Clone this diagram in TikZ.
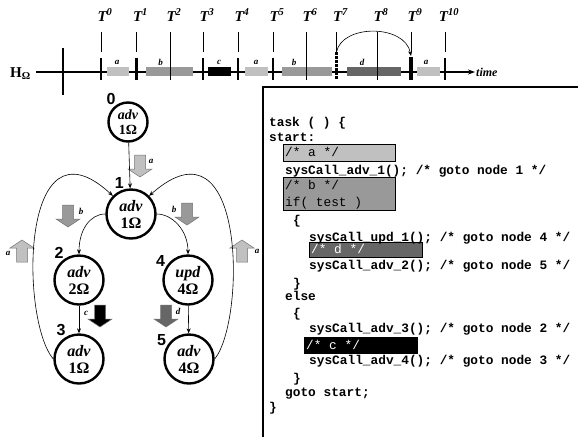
\documentclass[tikz,border=0pt]{standalone}
\usepackage{fontspec}
\setmainfont{Liberation Serif}
\newfontfamily\codefont{Liberation Mono}
\newfontfamily\numfont{Liberation Sans}
\usetikzlibrary{arrows.meta,positioning}

\definecolor{lgray}{HTML}{C0C0C0}
\definecolor{mgray}{HTML}{999999}
\definecolor{dgray}{HTML}{666666}

% fat block arrow: x, y, colour, angle
\newcommand{\fatarrow}[4]{%
  \draw[fat=#3, shift={(#1,#2)}, rotate=#4]
    (-5.5,-11) -- (5.5,-11) -- (5.5,3) -- (12,3) -- (0,11) -- (-12,3) -- (-5.5,3) -- cycle;}

\begin{document}
\begin{tikzpicture}[x=1pt, y=-1pt,
    state/.style={circle, draw, line width=2.4pt, minimum size=49pt, inner sep=0pt,
      align=center, font=\fontsize{16}{17}\selectfont\bfseries},
    stnum/.style={anchor=south east, inner sep=0.5pt,
      font=\numfont\fontsize{16}{16}\selectfont\bfseries},
    edge/.style={-{Stealth[length=5pt,width=4pt]}, line width=0.6pt},
    fat/.style={fill=#1, draw=black!55, line width=0.5pt},
    flab/.style={inner sep=0pt, font=\fontsize{9}{9}\selectfont\bfseries\itshape},
    tline/.style={line width=0.7pt},
    tick/.style={line width=2.8pt},
    tlab/.style={inner sep=0pt, font=\fontsize{15}{15}\selectfont\bfseries\itshape},
    code/.style={anchor=base west, inner sep=0pt,
      font=\codefont\fontsize{12.8}{13}\selectfont\bfseries},
    cbox/.style={draw, fill=#1, line width=0.5pt},
    boxtxt/.style={anchor=base west, inner sep=0pt,
      font=\codefont\fontsize{12.8}{13}\selectfont, text=#1},
    boxtxt/.default=black]
  \useasboundingbox (0,0) rectangle (578,437);

  % ---- time line ----
  \node[anchor=base west, inner sep=0pt, font=\fontsize{15}{15}\selectfont\bfseries]
    (hq) at (10,77) {H\textsubscript{Ω}};
  \node[anchor=west, inner sep=1pt, font=\fontsize{12}{12}\selectfont\bfseries\itshape]
    (tm) at (475,72) {time};
  \coordinate (ax0) at (36,72);
  \draw[line width=1.8pt, -{Stealth[length=7pt,width=5pt]}] (ax0) -- (tm.west);
  \draw[line width=1.8pt] (63,48) -- (63,95);
  \foreach \a/\b/\c in {107/129/lgray, 146/193/mgray, 208/231/black, 245/268/lgray,
                        282/332/mgray, 347/401/dgray, 417/440/lgray}
    \fill[\c] (\a,67) rectangle (\b,76);
  \foreach \x/\s [count=\i] in {117/a, 160.5/b, 219/c, 256/a, 294/b, 362/d, 426/a}
    \node[flab] (s\i) at (\x,62) {\s};
  \foreach \k/\x in {0/101, 1/136.5, 2/170, 3/203, 4/238, 5/273, 6/306,
                     7/336.5, 8/377, 9/411, 10/445} {
    \draw[tline] (\x,32) -- (\x,52);
    \node[tlab] (T\k) at (\x+4,15) {T\textsuperscript{\k}};
  }
  \foreach \x in {101, 136.5, 203, 238, 273, 445}
    \draw[tick] (\x,58) -- (\x,80);
  \draw[tick, line width=3.6pt] (411,57) -- (411,80);
  \foreach \x in {170, 306, 377}
    \draw[tline] (\x,52) -- (\x,80);
  \draw[tick, dash pattern=on 2.5pt off 1.5pt] (336.5,52) -- (336.5,80);
  \coordinate (t7) at (336.5,52);
  \coordinate (t9) at (411,56);
  \draw[edge] (t7) .. controls (342,24) and (405,24) .. (t9);

  % ---- block arrows ----
  \fatarrow{140}{166}{lgray}{0}
  \fatarrow{68}{216}{mgray}{0}
  \fatarrow{187}{214}{mgray}{0}
  \fatarrow{22}{251}{lgray}{180}
  \fatarrow{242}{251}{lgray}{180}
  \fatarrow{100}{316}{black}{0}
  \fatarrow{166}{316}{dgray}{0}
  \node[flab] (fa0) at (151,161) {a};
  \node[flab] (fb1) at (81,211) {b};
  \node[flab] (fb2) at (174,209) {b};
  \node[flab] (fa1) at (8,253) {a};
  \node[flab] (fa2) at (257,251) {a};
  \node[flab] (fc) at (86,313) {c};
  \node[flab] (fd) at (178,311) {d};

  % ---- graph ----
  \node[state, minimum size=39pt, font=\fontsize{14}{15}\selectfont\bfseries]
    (n0) at (128,122) {\textit{adv}\\1Ω};
  \node[state] (n1) at (131,214) {\textit{adv}\\1Ω};
  \node[state] (n2) at (79,280) {\textit{adv}\\2Ω};
  \node[state] (n3) at (79,359) {\textit{adv}\\1Ω};
  \node[state] (n4) at (188,280) {\textit{upd}\\4Ω};
  \node[state] (n5) at (189,359) {\textit{adv}\\4Ω};
  \node[stnum] (k0) at (n0.125) {0};
  \node[stnum] (k1) at (n1.105) {1};
  \node[stnum] (k2) at (n2.125) {2};
  \node[stnum] (k3) at (n3.120) {3};
  \node[stnum] (k4) at (n4.150) {4};
  \node[stnum] (k5) at (n5.150) {5};
  \draw[edge] (n0) -- (n1);
  \draw[edge] (n1.west) .. controls (90,214) and (79,230) .. (n2.north);
  \draw[edge] (n1.east) .. controls (172,214) and (188,230) .. (n4.north);
  \draw[edge] (n2) -- (n3);
  \draw[edge] (n4) -- (n5);
  \draw[edge] (n3.west) .. controls (20,320) and (20,110) .. (n1.north west);
  \draw[edge] (n5.east) .. controls (246,320) and (246,110) .. (n1.north east);

  % ---- code ----
  \draw[line width=1.2pt] (578,87) -- (263,87) -- (263,437);
  \draw[cbox=lgray] (283,144) rectangle (395,161);
  \draw[cbox=mgray] (283,177) rectangle (395,210);
  \draw[cbox=dgray] (309,242) rectangle (422,257);
  \draw[cbox=black] (304,337) rectangle (417,353);
  \node[code] (l1) at (269,126) {task ( ) \{};
  \node[code] (l2) at (269,141) {start:};
  \node[boxtxt] (l3) at (285,156) {/* a */};
  \node[code] (l4) at (285,174) {sysCall\_adv\_1(); /* goto node 1 */};
  \node[boxtxt] (l5) at (285,189) {/* b */};
  \node[boxtxt] (l6) at (285,206) {if( test )};
  \node[code] (l7) at (293,224) {\{};
  \node[code] (l8) at (309,241) {sysCall\_upd\_1(); /* goto node 4 */};
  \node[boxtxt=white] (l9) at (311,253) {/* d */};
  \node[code] (l10) at (309,269) {sysCall\_adv\_2(); /* goto node 5 */};
  \node[code] (l11) at (293,287) {\}};
  \node[code] (l12) at (285,300) {else};
  \node[code] (l13) at (293,317) {\{};
  \node[code] (l14) at (309,332) {sysCall\_adv\_3(); /* goto node 2 */};
  \node[boxtxt=white] (l15) at (306,349) {/* c */};
  \node[code] (l16) at (309,364) {sysCall\_adv\_4(); /* goto node 3 */};
  \node[code] (l17) at (293,382) {\}};
  \node[code] (l18) at (285,396) {goto start;};
  \node[code] (l19) at (269,411) {\}};
\end{tikzpicture}
\end{document}
